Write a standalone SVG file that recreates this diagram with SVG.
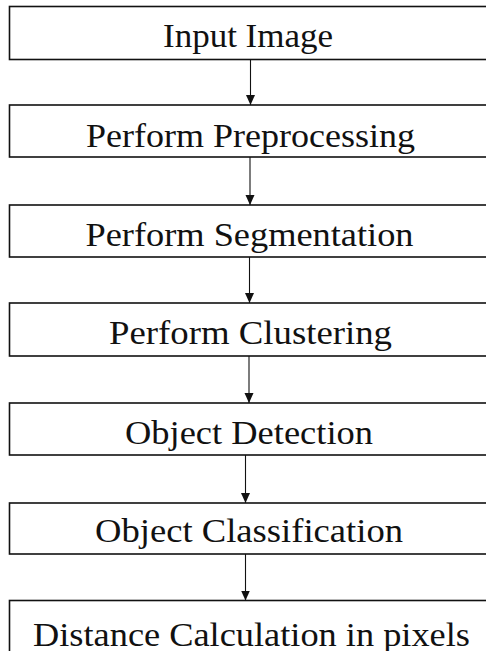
<svg xmlns="http://www.w3.org/2000/svg" width="486" height="651" viewBox="0 0 486 651">
<style>
.box{fill:#fff;stroke:#111;stroke-width:1.6}
.lbl{font-family:"Times New Roman","Liberation Serif",Tinos,serif;font-size:33px;fill:#111;text-anchor:middle}
.con line{stroke:#111;stroke-width:1.1}
</style>
<defs>
<marker id="ah" viewBox="0 0 10 10" refX="10" refY="5" markerWidth="10" markerHeight="10" markerUnits="userSpaceOnUse" orient="auto">
<path d="M0,0.5 L10,5 L0,9.5 Z" fill="#111"/>
</marker>
</defs>
<rect width="486" height="651" fill="#fff"/>
<g id="n1"><rect class="box" x="9.5" y="6.5" width="490" height="53"/><text class="lbl" x="248" y="47" textLength="170" lengthAdjust="spacingAndGlyphs">Input Image</text></g>
<g id="n2"><rect class="box" x="9.5" y="105" width="490" height="52"/><text class="lbl" x="250.5" y="146.5" textLength="329" lengthAdjust="spacingAndGlyphs">Perform Preprocessing</text></g>
<g id="n3"><rect class="box" x="9.5" y="205" width="490" height="52"/><text class="lbl" x="249.5" y="246" textLength="328" lengthAdjust="spacingAndGlyphs">Perform Segmentation</text></g>
<g id="n4"><rect class="box" x="9.5" y="303" width="490" height="53"/><text class="lbl" x="250.5" y="344" textLength="283" lengthAdjust="spacingAndGlyphs">Perform Clustering</text></g>
<g id="n5"><rect class="box" x="9.5" y="403" width="490" height="52"/><text class="lbl" x="249" y="444" textLength="248" lengthAdjust="spacingAndGlyphs">Object Detection</text></g>
<g id="n6"><rect class="box" x="9.5" y="503" width="490" height="51"/><text class="lbl" x="249" y="542" textLength="308" lengthAdjust="spacingAndGlyphs">Object Classification</text></g>
<g id="n7"><rect class="box" x="9.5" y="600.5" width="490" height="60"/><text class="lbl" x="251.5" y="646" textLength="437" lengthAdjust="spacingAndGlyphs">Distance Calculation in pixels</text></g>
<g class="con" id="connectors">
<line x1="250.5" y1="59.5" x2="250.5" y2="105" marker-end="url(#ah)"/>
<line x1="250" y1="157" x2="250" y2="205" marker-end="url(#ah)"/>
<line x1="249.5" y1="257" x2="249.5" y2="303" marker-end="url(#ah)"/>
<line x1="249" y1="356" x2="249" y2="403" marker-end="url(#ah)"/>
<line x1="245.5" y1="455" x2="245.5" y2="503" marker-end="url(#ah)"/>
<line x1="245.5" y1="554" x2="245.5" y2="600.5" marker-end="url(#ah)"/>
</g>
</svg>
